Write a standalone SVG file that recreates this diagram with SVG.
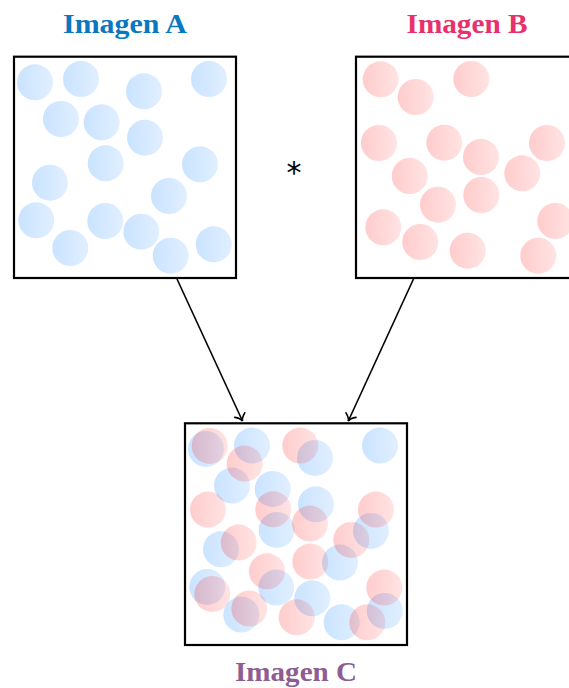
<svg xmlns="http://www.w3.org/2000/svg" xmlns:xlink="http://www.w3.org/1999/xlink" width="569" height="688" viewBox="0 0 569 688">
<style>
.box{fill:#ffffff;stroke:#000000;stroke-width:2.2}
.title{font-family:"Liberation Serif","Times New Roman",serif;font-weight:bold;font-size:27.5px;text-anchor:middle}
.conn{fill:none;stroke:#000000;stroke-width:1.6}
.bc{fill:url(#gBlue)}
.rc{fill:url(#gRed)}
</style>
<defs>
<linearGradient id="gBlue" x1="0" y1="0" x2="1" y2="0">
<stop offset="0" stop-color="#007bff" stop-opacity="0.21"/>
<stop offset="1" stop-color="#007bff" stop-opacity="0.12"/>
</linearGradient>
<linearGradient id="gRed" x1="0" y1="0" x2="1" y2="0">
<stop offset="0" stop-color="#ff0000" stop-opacity="0.2"/>
<stop offset="1" stop-color="#ff0000" stop-opacity="0.11"/>
</linearGradient>
<marker id="arr" markerUnits="userSpaceOnUse" markerWidth="16" markerHeight="16" viewBox="-8 -8 16 16" refX="0" refY="0" orient="auto" overflow="visible">
<path d="M -6.5,-5.5 C -4,-1.8 -1.4,-0.3 0,0 C -1.4,0.3 -4,1.8 -6.5,5.5" fill="none" stroke="#000000" stroke-width="1.6" stroke-linecap="round"/>
</marker>
<g id="blueSet">
<circle class="bc" cx="21" cy="25.6" r="18"/>
<circle class="bc" cx="67" cy="22.3" r="18"/>
<circle class="bc" cx="130" cy="34.6" r="18"/>
<circle class="bc" cx="195" cy="22.3" r="18"/>
<circle class="bc" cx="47" cy="62.3" r="18"/>
<circle class="bc" cx="87.7" cy="65.6" r="18"/>
<circle class="bc" cx="131" cy="81" r="18"/>
<circle class="bc" cx="91.7" cy="106.6" r="18"/>
<circle class="bc" cx="36" cy="126" r="18"/>
<circle class="bc" cx="186" cy="107.6" r="18"/>
<circle class="bc" cx="155" cy="139.3" r="18"/>
<circle class="bc" cx="22.3" cy="163.6" r="18"/>
<circle class="bc" cx="91.3" cy="164.3" r="18"/>
<circle class="bc" cx="127.3" cy="175" r="18"/>
<circle class="bc" cx="56.3" cy="191.3" r="18"/>
<circle class="bc" cx="156.7" cy="199" r="18"/>
<circle class="bc" cx="199.7" cy="187.6" r="18"/>
</g>
<g id="redSet">
<circle class="rc" cx="24.7" cy="22.6" r="18"/>
<circle class="rc" cx="59.7" cy="40.3" r="18"/>
<circle class="rc" cx="115.3" cy="22.3" r="18"/>
<circle class="rc" cx="23" cy="86.3" r="18"/>
<circle class="rc" cx="88.3" cy="86" r="18"/>
<circle class="rc" cx="125" cy="100.3" r="18"/>
<circle class="rc" cx="191" cy="86.3" r="18"/>
<circle class="rc" cx="53.7" cy="119.3" r="18"/>
<circle class="rc" cx="166.3" cy="116.6" r="18"/>
<circle class="rc" cx="82" cy="148" r="18"/>
<circle class="rc" cx="125.3" cy="138.3" r="18"/>
<circle class="rc" cx="27.3" cy="170.6" r="18"/>
<circle class="rc" cx="64.3" cy="185.3" r="18"/>
<circle class="rc" cx="111.7" cy="194" r="18"/>
<circle class="rc" cx="199.3" cy="164.3" r="18"/>
<circle class="rc" cx="182.3" cy="199" r="18"/>
</g>
</defs>
<rect x="0" y="0" width="569" height="688" fill="#ffffff"/>

<g id="imagenA">
<rect class="box" x="14" y="56.7" width="222" height="221.3"/>
<use xlink:href="#blueSet" href="#blueSet" transform="translate(14,56.7)"/>
<text class="title" x="125" y="32.5" fill="#0a78be" textLength="124" lengthAdjust="spacingAndGlyphs">Imagen A</text>
</g>

<g id="imagenB">
<rect class="box" x="356" y="56.7" width="222" height="221.3"/>
<use xlink:href="#redSet" href="#redSet" transform="translate(356,56.7)"/>
<text class="title" x="467" y="32.5" fill="#e8306c" textLength="121" lengthAdjust="spacingAndGlyphs">Imagen B</text>
</g>

<g id="operator">
<text x="294" y="183" font-family="DejaVu Sans, sans-serif" font-size="30" text-anchor="middle" fill="#000000">*</text>
</g>

<g id="imagenC">
<rect class="box" x="185" y="423.3" width="222" height="221.7"/>
<use xlink:href="#blueSet" href="#blueSet" transform="translate(185,423.3)"/>
<use xlink:href="#redSet" href="#redSet" transform="translate(185,423.3)"/>
<text class="title" x="296" y="681" fill="#8e5d91" textLength="122" lengthAdjust="spacingAndGlyphs">Imagen C</text>
</g>

<g id="connectors">
<path class="conn" d="M 177,279 L 242.5,421" marker-end="url(#arr)"/>
<path class="conn" d="M 413.5,279 L 348.3,421" marker-end="url(#arr)"/>
</g>
</svg>
